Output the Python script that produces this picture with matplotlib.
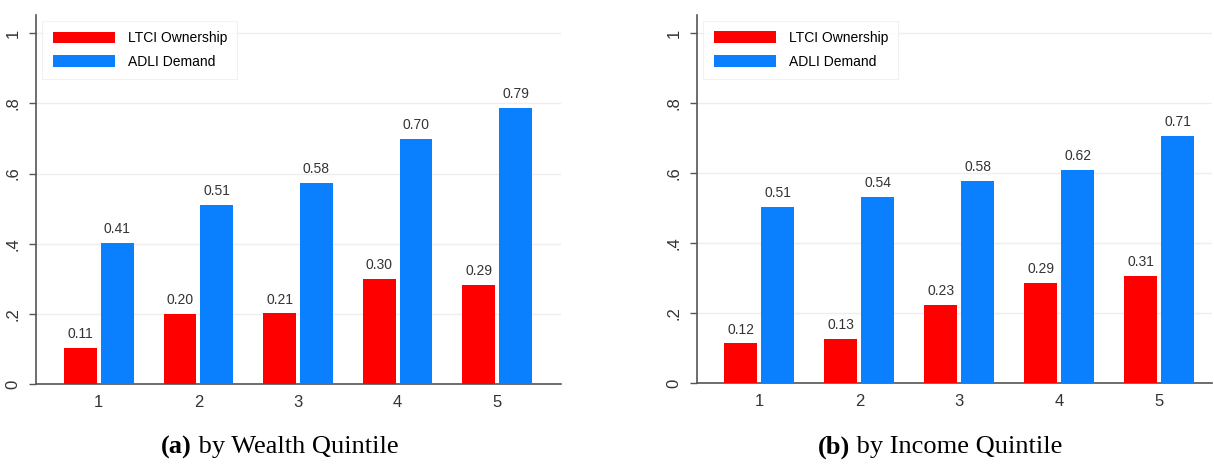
import matplotlib
matplotlib.use('Agg')
import matplotlib.pyplot as plt
import numpy as np

quintiles = [1, 2, 3, 4, 5]

# by wealth quintile
wealth_ltci = [0.103, 0.199, 0.201, 0.299, 0.283]
wealth_adli = [0.402, 0.510, 0.572, 0.698, 0.786]
wealth_ltci_lbl = ["0.11", "0.20", "0.21", "0.30", "0.29"]
wealth_adli_lbl = ["0.41", "0.51", "0.58", "0.70", "0.79"]

# by income quintile
income_ltci = [0.113, 0.126, 0.224, 0.286, 0.307]
income_adli = [0.503, 0.533, 0.578, 0.610, 0.706]
income_ltci_lbl = ["0.12", "0.13", "0.23", "0.29", "0.31"]
income_adli_lbl = ["0.51", "0.54", "0.58", "0.62", "0.71"]

yticks = [0, 0.2, 0.4, 0.6, 0.8, 1.0]
ytick_labels = ["0", ".2", ".4", ".6", ".8", "1"]

RED = "#FF0000"
BLUE = "#0A80FF"

plt.rcParams['font.family'] = ['Liberation Sans', 'DejaVu Sans']

fig = plt.figure(figsize=(12.14, 4.70), dpi=100)
ax_a = fig.add_axes([36 / 1214, 1 - 384 / 470, 525 / 1214, 369 / 470])
ax_b = fig.add_axes([697 / 1214, 1 - 383 / 470, 515 / 1214, 368 / 470])


def draw(ax, ltci, adli, ltci_lbl, adli_lbl, xlim):
    x = np.array(quintiles, dtype=float)
    w = 0.33
    b1 = ax.bar(x - 0.185, ltci, w, color=RED, label="LTCI Ownership", zorder=3)
    b2 = ax.bar(x + 0.185, adli, w, color=BLUE, label="ADLI Demand", zorder=3)
    for bars, labels in ((b1, ltci_lbl), (b2, adli_lbl)):
        for rect, txt in zip(bars, labels):
            ax.annotate(txt, (rect.get_x() + rect.get_width() / 2, rect.get_height()),
                        xytext=(0, 5), textcoords="offset points",
                        ha="center", va="bottom", fontsize=10, color="#333333")
    ax.set_xlim(*xlim)
    ax.set_ylim(0, 1.052)
    ax.set_xticks(quintiles)
    ax.set_xticklabels([str(q) for q in quintiles], fontsize=12, color="#333333")
    ax.tick_params(axis="x", length=0, pad=8)
    ax.set_yticks(yticks)
    ax.set_yticklabels(ytick_labels, rotation=90, va="center", fontsize=12, color="#333333")
    ax.tick_params(axis="y", length=5, width=1, color="#555555", pad=6)
    ax.grid(axis="y", color="#EEEEEE", linewidth=1, zorder=0)
    for s in ("top", "right"):
        ax.spines[s].set_visible(False)
    for s in ("left", "bottom"):
        ax.spines[s].set_color("#555555")
        ax.spines[s].set_linewidth(1.2)
    leg = ax.legend(loc="upper left", bbox_to_anchor=(0.004, 0.996), fontsize=10,
                    handlelength=4.5, handleheight=0.9, frameon=True,
                    fancybox=False, borderpad=0.75, labelspacing=0.7,
                    handletextpad=0.9, borderaxespad=0.3)
    leg.get_frame().set_edgecolor("#EEEEEE")
    leg.get_frame().set_linewidth(0.8)


draw(ax_a, wealth_ltci, wealth_adli, wealth_ltci_lbl, wealth_adli_lbl, (0.37, 5.64))
draw(ax_b, income_ltci, income_adli, income_ltci_lbl, income_adli_lbl, (0.375, 5.53))

# captions: bold tag + normal text, centred as one line
cap_font = ['Liberation Serif', 'DejaVu Serif']
renderer = fig.canvas.get_renderer()
cap_y = 1 - 447 / 470
for xc, tag, rest in ((280, "(a)", " by Wealth Quintile"), (940, "(b)", " by Income Quintile")):
    t1 = fig.text(0, cap_y, tag, fontsize=19, fontweight="bold",
                  family=cap_font, ha="left", va="center")
    t2 = fig.text(0, cap_y, rest, fontsize=19, family=cap_font,
                  ha="left", va="center")
    w1 = t1.get_window_extent(renderer).width
    w2 = t2.get_window_extent(renderer).width
    left = xc - (w1 + w2) / 2
    t1.set_x(left / 1214)
    t2.set_x((left + w1) / 1214)

fig.savefig("out.png", dpi=100)
